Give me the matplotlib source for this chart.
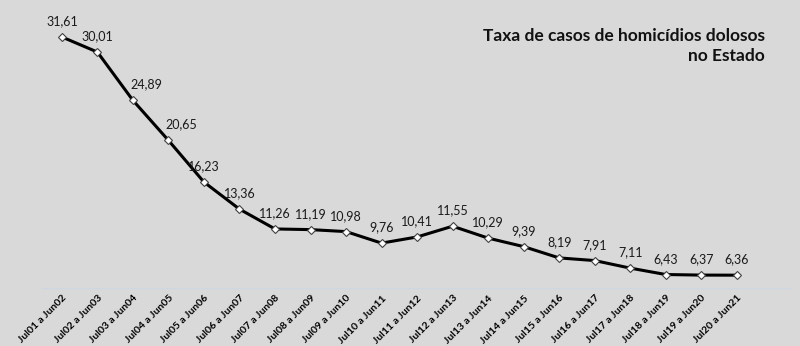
import matplotlib.pyplot as plt
import numpy as np

# Taxa de homicídios dolosos no Estado, por período (jul a jun)
periodos = ["Jul01 a Jun02", "Jul02 a Jun03", "Jul03 a Jun04", "Jul04 a Jun05",
            "Jul05 a Jun06", "Jul06 a Jun07", "Jul07 a Jun08", "Jul08 a Jun09",
            "Jul09 a Jun10", "Jul10 a Jun11", "Jul11 a Jun12", "Jul12 a Jun13",
            "Jul13 a Jun14", "Jul14 a Jun15", "Jul15 a Jun16", "Jul16 a Jun17",
            "Jul17 a Jun18", "Jul18 a Jun19", "Jul19 a Jun20", "Jul20 a Jun21"]
taxa = [31.61, 30.01, 24.89, 20.65, 16.23, 13.36, 11.26, 11.19, 10.98, 9.76,
        10.41, 11.55, 10.29, 9.39, 8.19, 7.91, 7.11, 6.43, 6.37, 6.36]

plt.rcParams['font.family'] = ['Lato', 'DejaVu Sans']

fig = plt.figure(figsize=(8, 3.46), dpi=100, facecolor="#d9d9d9")
ax = fig.add_axes([0.0525, 0.1676, 0.935, 0.818])
ax.set_facecolor("#d9d9d9")

x = np.arange(len(taxa))
ax.plot(x, taxa, color="black", lw=2.2, marker="D", ms=4,
        mfc="white", mec="#404040", mew=0.8, zorder=3)

# rótulos 24,89 e 20,65 ficam deslocados pra direita (fora da linha)
deslocar = {2: 10, 3: 9}
for xi, v in zip(x, taxa):
    ax.annotate(f"{v:.2f}".replace(".", ","), (xi, v),
                xytext=(deslocar.get(xi, 0), 7),
                textcoords="offset points", ha="center", va="bottom",
                fontsize=9, color="#1a1a1a")

ax.set_xlim(-0.56, 20.5)
ax.set_ylim(5, 35)
ax.set_yticks([])
ax.set_xticks(x)
ax.set_xticklabels(periodos, rotation=45, ha="right", rotation_mode="anchor",
                   fontsize=7.5, fontweight="bold")
ax.tick_params(axis="x", length=0, pad=4)
for s in ["top", "right", "left"]:
    ax.spines[s].set_visible(False)
ax.spines["bottom"].set_color("#cdd6e2")
ax.spines["bottom"].set_linewidth(1)

fig.text(0.956, 0.92, "Taxa de casos de homicídios dolosos\nno Estado",
         ha="right", va="top", fontsize=12.5, fontweight="bold",
         linespacing=1.3, color="#111111")

fig.savefig("out.png", dpi=100, facecolor=fig.get_facecolor())
